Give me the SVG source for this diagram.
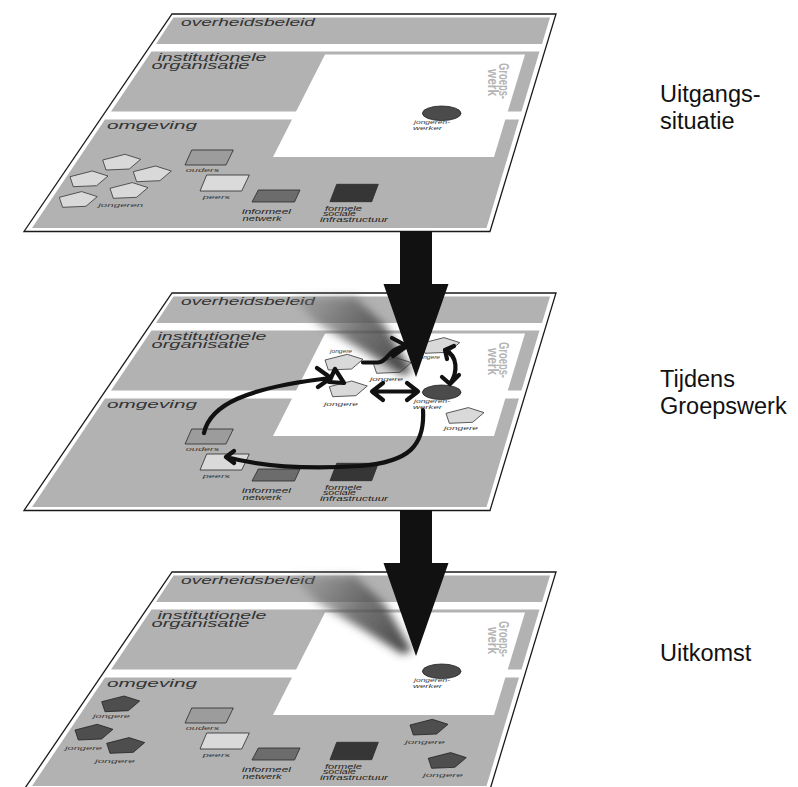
<svg xmlns="http://www.w3.org/2000/svg" width="798" height="787" viewBox="0 0 798 787">
<style>
.band{fill:#b2b2b2}
.outline{fill:#fff;stroke:#1a1a1a;stroke-width:1.3}
.lbl{font-family:"Liberation Sans",Arial,sans-serif;font-style:italic;fill:#333}
.big{font-size:10.5px}
.sm{font-size:6px;fill:#3a3a3a}
.smd{font-size:6.3px;fill:#1e1e1e}
.gw{font-family:"Liberation Sans Narrow","Liberation Sans",sans-serif;font-weight:bold;font-size:14px;fill:#b4b4b4}
.sq{stroke:#2a2a2a;stroke-width:0.8}
.pl{fill:#d9d9d9;stroke:#333;stroke-width:0.8}
.pd{fill:#4e4e4e;stroke:#222;stroke-width:0.8}
.arr{fill:none;stroke:#111;stroke-width:4.2;stroke-linecap:round;stroke-linejoin:round}
.side{font-family:"Liberation Sans",Arial,sans-serif;font-size:23.5px;fill:#111}
</style>
<defs>
<filter id="blur" x="-30%" y="-30%" width="160%" height="160%"><feGaussianBlur stdDeviation="4"/></filter>
<linearGradient id="shadeGrad" gradientUnits="userSpaceOnUse" x1="300" y1="300" x2="405" y2="372">
<stop offset="0" stop-color="#777" stop-opacity="0.35"/>
<stop offset="0.5" stop-color="#555" stop-opacity="0.8"/>
<stop offset="1" stop-color="#333" stop-opacity="0.9"/>
</linearGradient>
<path id="pent" d="M0,0 L22.3,-5.7 L38,-0.7 L26.6,9 L3.3,10 Z"/>
<polygon id="bigArrow" points="400,231 432,231 432,284 448.5,284 416,377 383.5,284 400,284" fill="#111"/>
<polygon id="shade" points="292,297 355,297 385,325 412,372 402,375 362,350 318,324" fill="url(#shadeGrad)" filter="url(#blur)"/>
<g id="sheet">
<polygon class="outline" points="172,14 556,14 490,231.5 24,231.5"/>
<polygon class="band" points="173.5,17.5 550,17.5 542,44 156,44"/>
<polygon class="band" points="151.5,51.5 539.5,51.5 521.5,111.5 111,111.5"/>
<polygon class="band" points="105,119.5 519,119.5 486.5,228 32,228"/>
<polygon fill="#fff" points="325,54.5 525,54.5 494,157 273,157"/>
<text class="lbl big" x="181" y="26" textLength="134" lengthAdjust="spacingAndGlyphs">overheidsbeleid</text>
<text class="lbl big" x="157.5" y="60.5" textLength="109" lengthAdjust="spacingAndGlyphs">institutionele</text>
<text class="lbl big" x="151.5" y="69" textLength="98" lengthAdjust="spacingAndGlyphs">organisatie</text>
<text class="lbl" font-size="11.5" x="107" y="128.5" textLength="90" lengthAdjust="spacingAndGlyphs">omgeving</text>
<text class="gw" transform="translate(499,63) rotate(90)" textLength="36" lengthAdjust="spacingAndGlyphs">Groeps-</text>
<text class="gw" transform="translate(488,69) rotate(90)" textLength="27" lengthAdjust="spacingAndGlyphs">werk</text>
<polygon class="sq" fill="#9c9c9c" points="191.7,150 233.3,150 226,165 185,165"/>
<polygon class="sq" fill="#dadada" points="206.7,175 249.3,175 241.7,191 200,191"/>
<polygon class="sq" fill="#6c6c6c" points="258.3,190 300,190 294.5,202 252,202"/>
<polygon class="sq" fill="#363636" points="336.7,184.3 378.3,184.3 371.7,201.7 330,201.7"/>
<text class="lbl sm" x="185.7" y="171.7" textLength="33.6" lengthAdjust="spacingAndGlyphs">ouders</text>
<text class="lbl sm" x="202.7" y="199.3" textLength="27.3" lengthAdjust="spacingAndGlyphs">peers</text>
<text class="lbl smd" x="242" y="214" textLength="49" lengthAdjust="spacingAndGlyphs">informeel</text>
<text class="lbl smd" x="242.5" y="221" textLength="39" lengthAdjust="spacingAndGlyphs">netwerk</text>
<text class="lbl smd" x="325" y="210.5" textLength="37" lengthAdjust="spacingAndGlyphs">formele</text>
<text class="lbl smd" x="323" y="216.3" textLength="33" lengthAdjust="spacingAndGlyphs">sociale</text>
<text class="lbl smd" x="320" y="222" textLength="68" lengthAdjust="spacingAndGlyphs">infrastructuur</text>
<ellipse cx="441.7" cy="113.3" rx="19.3" ry="7.3" fill="#4b4b4b" stroke="#222" stroke-width="0.8"/>
<text class="lbl sm" x="414" y="124.3" textLength="36" lengthAdjust="spacingAndGlyphs">jongeren-</text>
<text class="lbl sm" x="413" y="130.3" textLength="29" lengthAdjust="spacingAndGlyphs">werker</text>
</g>
</defs>

<g id="panel1">
<use href="#sheet"/>
<g id="p1-jongeren">
<use href="#pent" class="pl" x="102.7" y="160"/>
<use href="#pent" class="pl" x="70" y="176.7"/>
<use href="#pent" class="pl" x="133.3" y="171.7"/>
<use href="#pent" class="pl" x="59.3" y="197.3"/>
<use href="#pent" class="pl" x="110" y="188.3"/>
<text class="lbl sm" x="98.3" y="206.7" textLength="45" lengthAdjust="spacingAndGlyphs">jongeren</text>
</g>
</g>

<g id="panel2">
<use href="#sheet" transform="translate(0,279)"/>
<g id="p2-jongere-a"><use href="#pent" class="pl" x="325" y="360"/><text class="lbl sm" x="330" y="353.3" textLength="22" lengthAdjust="spacingAndGlyphs">jongere</text></g>
<g id="p2-jongere-b"><use href="#pent" class="pl" x="421.7" y="343.3"/><text class="lbl sm" x="418" y="359" textLength="22" lengthAdjust="spacingAndGlyphs">jongere</text></g>
<g id="p2-jongere-c"><use href="#pent" class="pl" x="373.3" y="363.3"/><text class="lbl sm" x="370" y="381" textLength="33" lengthAdjust="spacingAndGlyphs">jongere</text></g>
<g id="p2-jongere-d"><use href="#pent" class="pl" x="329.3" y="386.7"/><text class="lbl sm" x="324" y="406" textLength="34" lengthAdjust="spacingAndGlyphs">jongere</text></g>
<g id="p2-jongere-e"><use href="#pent" class="pl" x="446" y="413.3"/><text class="lbl sm" x="444" y="430" textLength="34" lengthAdjust="spacingAndGlyphs">jongere</text></g>
<use href="#shade"/>
<g id="p2-connectors">
<path class="arr" d="M372,391.5 L418,391.5 M383,383 L372,391.5 L383,400 M407,383 L418,391.5 L407,400"/>
<path class="arr" d="M363,362.5 L378,362.5 C388,362 388,348 406,346 M392,338 L407,346 L393,356"/>
<path class="arr" d="M445,350 C458,356 458,372 450,384 M454,346 L445,350 L447,359 M442,377 L450,384 L459,375"/>
<path class="arr" d="M204,433 C210,405 245,388 330,378 M317,368 L331,378 L318,387 M335,369 L344,383 L329,382 Z"/>
<path class="arr" d="M423,410 C425,445 410,462 360,466 C300,470 260,466 226,457 M234,451 L226,457 L234,463"/>
</g>
</g>

<g id="panel3">
<use href="#sheet" transform="translate(0,558)"/>
<g id="p3-jongere-1"><use href="#pent" class="pd" x="101.7" y="701.7"/><text class="lbl sm" x="93" y="718.3" textLength="37" lengthAdjust="spacingAndGlyphs">jongere</text></g>
<g id="p3-jongere-2"><use href="#pent" class="pd" x="75" y="730"/><text class="lbl sm" x="65" y="750" textLength="37" lengthAdjust="spacingAndGlyphs">jongere</text></g>
<g id="p3-jongere-3"><use href="#pent" class="pd" x="106.7" y="743.3"/><text class="lbl sm" x="95" y="762.7" textLength="40" lengthAdjust="spacingAndGlyphs">jongere</text></g>
<g id="p3-jongere-4"><use href="#pent" class="pd" x="410" y="725"/><text class="lbl sm" x="405" y="744" textLength="40" lengthAdjust="spacingAndGlyphs">jongere</text></g>
<g id="p3-jongere-5"><use href="#pent" class="pd" x="428.3" y="758.3"/><text class="lbl sm" x="423" y="776.7" textLength="40" lengthAdjust="spacingAndGlyphs">jongere</text></g>
<use href="#shade" transform="translate(0,279)"/>
</g>

<g id="transitions">
<use href="#bigArrow"/>
<use href="#bigArrow" transform="translate(0,279)"/>
</g>

<g id="stage-labels">
<text class="side" x="660" y="102">Uitgangs-</text>
<text class="side" x="660" y="129">situatie</text>
<text class="side" x="660" y="387">Tijdens</text>
<text class="side" x="660" y="414">Groepswerk</text>
<text class="side" x="660" y="661">Uitkomst</text>
</g>
</svg>
